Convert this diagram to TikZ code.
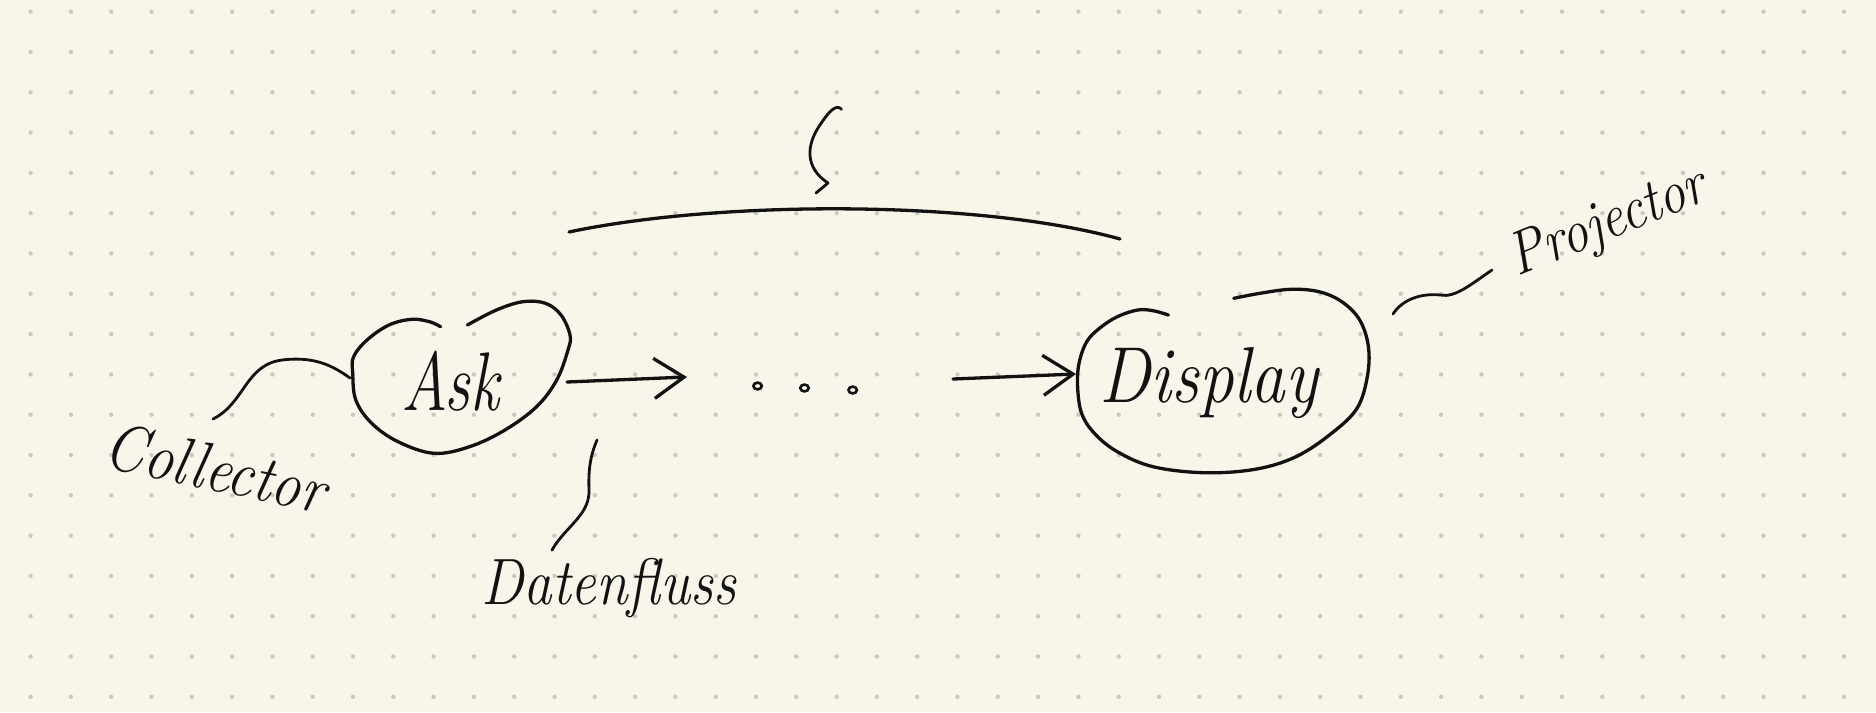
\documentclass[tikz,border=0pt]{standalone}
\usepackage{fontspec}
\usetikzlibrary{arrows.meta}
\definecolor{paper}{HTML}{F8F6EB}
\definecolor{griddot}{HTML}{C9C9C1}
\definecolor{ink}{HTML}{121212}
\begin{document}
\begin{tikzpicture}[x=1pt,y=-1pt,
  inkline/.style={draw=ink, line width=3.3pt, line cap=round, line join=round},
  lead/.style={inkline, line width=2.8pt},
  flow/.style={inkline, -{Straight Barb[length=30pt,width=40pt]}},
  hand/.style={text=ink, inner sep=0pt, anchor=base},
]
% paper and dot grid
\fill[paper] (0,0) rectangle (1876,712);
\useasboundingbox (0,0) rectangle (1876,712);
\foreach \i in {0,...,45}{\foreach \j in {0,...,17}{
  \fill[griddot] ({30.6+40.3*\i},{11.7+40.3*\j}) circle (2.2pt);}}

% texts
\node[hand, font=\fontsize{64}{70}\selectfont\itshape] (ask) at (450,410) {\scalebox{1}[1.3]{Ask}};
\node[hand, font=\fontsize{69}{74}\selectfont\itshape] (disp) at (1209,402) {\scalebox{1}[1.15]{Display}};
\node[hand, font=\fontsize{57}{62}\selectfont\itshape] (daten) at (609,604) {\scalebox{1}[1.15]{Datenfluss}};
\node[hand, font=\fontsize{58}{62}\selectfont\itshape, rotate=-12] (coll) at (211,490) {\scalebox{1}[1.15]{Collector}};
\node[hand, font=\fontsize{53}{58}\selectfont\itshape, rotate=22] (proj) at (1614,238) {\scalebox{1}[1.15]{Projector}};

% blobs
\draw[inkline] plot[smooth, tension=0.6] coordinates {
  (440.6,326.7) (429.5,321.7) (411.6,319.3) (389,325) (367,340) (353.6,356.7)
  (352.7,373) (355.8,400) (371.4,423) (398,441.7) (434,453.3) (469.6,446.7)
  (505,430) (536.6,406.7) (556.7,380) (568,350) (570,335) (561,315)
  (545.5,303.3) (523,301.7) (496.4,310) (467.4,325)};
\draw[inkline] plot[smooth, tension=0.6] coordinates {
  (1168.4,315) (1153,310.7) (1137.8,310) (1117.3,316.7) (1099.5,328.3)
  (1086.7,341.7) (1079,363.3) (1077.6,386.7) (1081.6,413.3) (1094.4,433.3)
  (1117.3,451.7) (1153,466.7) (1204,472.7) (1255,469.3) (1296,456.7)
  (1331.6,433.3) (1357,408.3) (1367.3,376.7) (1368.4,346.7) (1359.7,320)
  (1341.8,301.7) (1318.9,291.7) (1290.8,289.3) (1260,293.3) (1233.7,298.3)};

% dots
\node[minimum width=110pt, minimum height=14pt, inner sep=0pt] (dots) at (805,388) {};
\foreach \px/\py in {757.6/386, 804.5/388, 852.7/390}{
  \draw[ink, line width=2.6pt] (\px,\py) ellipse (4.2pt and 3.4pt);}

% connector end points
\coordinate (askE) at (567,382);
\coordinate (dotsIn) at (687,377);
\coordinate (dotsOut) at (953,379);
\coordinate (dispW) at (1076,374);
\coordinate (askW) at (350,378);
\coordinate (collTop) at (213,419);
\coordinate (askS) at (597,440);
\coordinate (datenTop) at (552,550);
\coordinate (dispNE) at (1393,314);
\coordinate (projBL) at (1492,270);
\coordinate (arcL) at (569,232);
\coordinate (arcR) at (1120,239);
\coordinate (hookTop) at (841.5,109.3);
\coordinate (hookBot) at (816,193);

% data flow arrows
\draw[flow] (askE) -- (dotsIn);
\draw[flow] (dotsOut) -- (dispW);

% label leads
\draw[lead] (collTop) .. controls (245,403) and (245,365) .. (282,360)
            .. controls (315,356) and (333,366) .. (askW);
\draw[lead] (datenTop) .. controls (565,527) and (590,515) .. (589,490)
            .. controls (588,465) and (592,452) .. (askS);
\draw[lead] (dispNE) .. controls (1402,300) and (1420,293) .. (1440,295)
            .. controls (1455,298) and (1470,285) .. (projBL);

% top arc with pointer
\draw[inkline] (arcL) .. controls (720,200) and (980,200) .. (arcR);
\draw[lead] (hookTop) .. controls (837,104) and (830,110) .. (822,122)
            .. controls (805,145) and (805,168) .. (828,183) -- (hookBot);
\end{tikzpicture}
\end{document}
